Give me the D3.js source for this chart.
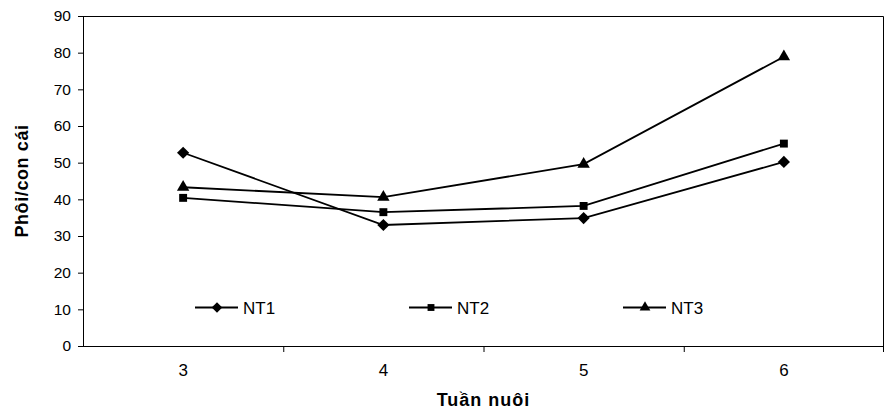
<!DOCTYPE html>
<html>
<head>
<meta charset="utf-8">
<script src="https://cdn.jsdelivr.net/npm/d3@7"></script>
<style>
  body { margin: 0; background: #fff; }
  text { font-family: "Liberation Sans", Arial, sans-serif; fill: #000; }
</style>
</head>
<body>
<svg id="chart" width="886" height="409"></svg>
<script>
const weeks = ["3", "4", "5", "6"];
const seriesNames = ["NT1", "NT2", "NT3"];
const nt1 = [52.7, 33.0, 34.9, 50.2];
const nt2 = [40.4, 36.5, 38.2, 55.2];
const nt3 = [43.3, 40.6, 49.6, 78.9];
const yTicks = [0, 10, 20, 30, 40, 50, 60, 70, 80, 90];

const seriesValues = [nt1, nt2, nt3];
const symbols = [d3.symbolDiamond2, d3.symbolSquare2, d3.symbolTriangle2];
const symbolSizes = [95, 80, 110];

const margin = { top: 16, right: 2, bottom: 63, left: 83 };
const width = 886 - margin.left - margin.right;
const height = 409 - margin.top - margin.bottom;

const svg = d3.select("#chart");
const g = svg.append("g").attr("transform", `translate(${margin.left},${margin.top})`);

const x = d3.scaleBand().domain(weeks).range([0, width]);
const y = d3.scaleLinear().domain([0, 90]).range([height, 0]);

// plot frame (top and right)
g.append("path")
  .attr("d", `M0,0.5H${width - 0.5}V${height}`)
  .attr("fill", "none").attr("stroke", "#000").attr("stroke-width", 1);

// y axis
const yAxis = g.append("g")
  .call(d3.axisLeft(y).tickValues(yTicks).tickSize(5).tickPadding(7));
yAxis.selectAll("text").attr("font-size", 15.5);
yAxis.select(".domain").attr("d", `M0.5,0V${height}`);

// x axis, ticks between categories
const xAxis = g.append("g").attr("transform", `translate(0,${height})`);
xAxis.append("line")
  .attr("x1", 0).attr("x2", width).attr("y1", 0.5).attr("y2", 0.5)
  .attr("stroke", "#000");
xAxis.selectAll("line.tick")
  .data(weeks.slice(1).concat(["end"]))
  .join("line")
  .attr("class", "tick")
  .attr("x1", (d, i) => i < weeks.length - 1 ? x(d) + 0.5 : width - 0.5)
  .attr("x2", (d, i) => i < weeks.length - 1 ? x(d) + 0.5 : width - 0.5)
  .attr("y1", 0).attr("y2", 6)
  .attr("stroke", "#000");
xAxis.selectAll("text.lbl")
  .data(weeks)
  .join("text")
  .attr("class", "lbl")
  .attr("x", d => x(d) + x.bandwidth() / 2)
  .attr("y", 30)
  .attr("text-anchor", "middle")
  .attr("font-size", 17)
  .text(d => d);

// axis titles
svg.append("text")
  .attr("x", margin.left + width / 2)
  .attr("y", 406)
  .attr("text-anchor", "middle")
  .attr("font-size", 18)
  .attr("letter-spacing", 1)
  .attr("font-weight", "bold")
  .text("Tuần nuôi");

svg.append("text")
  .attr("transform", `translate(28,${margin.top + height / 2}) rotate(-90)`)
  .attr("text-anchor", "middle")
  .attr("font-size", 18)
  .attr("letter-spacing", 0.6)
  .attr("font-weight", "bold")
  .text("Phôi/con cái");

// lines and markers
const line = d3.line()
  .x((d, i) => x(weeks[i]) + x.bandwidth() / 2)
  .y(d => y(d));

seriesValues.forEach((vals, si) => {
  g.append("path")
    .datum(vals)
    .attr("d", line)
    .attr("fill", "none")
    .attr("stroke", "#000")
    .attr("stroke-width", 1.8);
  g.selectAll(`.m${si}`)
    .data(vals)
    .join("path")
    .attr("class", `m${si}`)
    .attr("transform", (d, i) => `translate(${x(weeks[i]) + x.bandwidth() / 2},${y(d)})`)
    .attr("d", d3.symbol(symbols[si], symbolSizes[si]))
    .attr("fill", "#000");
});

// legend inside plot
const legendY = y(10.5);
const legend = g.selectAll(".legend")
  .data(seriesNames)
  .join("g")
  .attr("class", "legend")
  .attr("transform", (d, i) => `translate(${112 + i * 214},${legendY})`);
legend.append("line")
  .attr("x1", 0).attr("x2", 43).attr("y1", 0).attr("y2", 0)
  .attr("stroke", "#000").attr("stroke-width", 1.8);
legend.append("path")
  .attr("transform", "translate(22,0)")
  .attr("d", (d, i) => d3.symbol(symbols[i], symbolSizes[i] * 0.75)())
  .attr("fill", "#000");
legend.append("text")
  .attr("x", 48)
  .attr("y", 6)
  .attr("font-size", 17)
  .text(d => d);
</script>
</body>
</html>
